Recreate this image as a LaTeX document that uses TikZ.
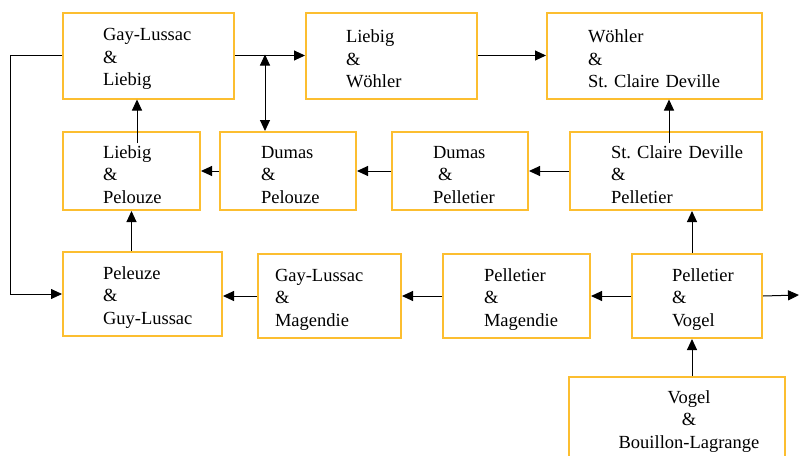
\documentclass[tikz,border=0pt]{standalone}
\usepackage{fontspec}
\setmainfont{Liberation Serif}
\usetikzlibrary{arrows.meta}
\definecolor{boxgold}{RGB}{252,190,48}

\tikzset{
  pair/.style={draw=boxgold, line width=2pt, anchor=north west, inner sep=0pt,
    align=left, font=\fontsize{18.5}{22.5}\selectfont,
    execute at begin node={\rule{0pt}{19.5pt}}},
  link/.style={line width=1pt, ->}
}

\begin{document}
\begin{tikzpicture}[x=1pt, y=-1pt, >={Triangle[length=11pt, width=10pt]}]
    \useasboundingbox (0,0) rectangle (800,455);

    % Top row
    \node[pair, text width=171pt, minimum height=86pt] (gl) at (62,11.5) {\leftskip=40pt Gay-Lussac\\ \&\\ Liebig\par};
    \node[pair, text width=171pt, minimum height=86pt] (lw) at (305,11.5) {\leftskip=40pt Liebig\\ \&\\ Wöhler\par};
    \node[pair, text width=215pt, minimum height=86pt] (wd) at (546,11.5) {\leftskip=41pt Wöhler\\ \&\\ St.~Claire Deville\par};

    % Middle row
    \node[pair, text width=137pt, minimum height=78pt] (lpz) at (62,131) {\leftskip=40pt Liebig\\ \&\\ Pelouze\par};
    \node[pair, text width=136pt, minimum height=78pt] (dp) at (219,131) {\leftskip=41pt Dumas\\ \&\\ Pelouze\par};
    \node[pair, text width=136pt, minimum height=78pt] (dpe) at (391,131) {\leftskip=41pt Dumas\\ \hspace*{5pt}\&\\ Pelletier\par};
    \node[pair, text width=192pt, minimum height=78pt] (sp) at (569,131) {\leftskip=41pt St.~Claire Deville\\ \&\\ Pelletier\par};

    % Bottom row
    \node[pair, text width=159pt, minimum height=84pt] (pg) at (62,251) {\leftskip=40pt Peleuze\\ \&\\ Guy-Lussac\par};
    \node[pair, text width=143pt, minimum height=84pt] (gm) at (257,253) {\leftskip=17pt Gay-Lussac\\ \&\\ Magendie\par};
    \node[pair, text width=147pt, minimum height=84pt] (pm) at (442,253) {\leftskip=41pt Pelletier\\ \&\\ Magendie\par};
    \node[pair, text width=130pt, minimum height=84pt] (pv) at (631,253) {\leftskip=40pt Pelletier\\ \&\\ Vogel\par};
    \node[pair, text width=216pt, minimum height=82pt] (vb) at (568,376) {\leftskip=24pt plus 1fil Vogel\\ \&\\ Bouillon-Lagrange\par};

    % Connectors
    \coordinate (junc) at (265,54.5);
    \coordinate (exit) at (799,295);
    \draw[link] (gl.east) -- (lw.west);
    \draw[link] (lw.east) -- (wd.west);
    \draw[line width=1pt, <->] (junc) -- (junc |- dp.north);
    \draw[link] ([xshift=3pt, yshift=-12pt]sp.north) -- ([xshift=3pt]sp.north |- wd.south);
    \draw[link] ([xshift=5.5pt, yshift=-12pt]lpz.north) -- ([xshift=5.5pt]lpz.north |- gl.south);
    \draw[link] (dp.west) -- (lpz.east);
    \draw[link] (dpe.west) -- (dp.east);
    \draw[link] (sp.west) -- (dpe.east);
    \draw[link] (lpz.south |- pg.north) -- (lpz.south);
    \draw[link, line width=0.8pt] (gl.west) -- ++(-52,0) |- (pg.west);
    \draw[link] (gm.west) -- (gm.west -| pg.east);
    \draw[link] (pm.west) -- (gm.east);
    \draw[link] (pv.west) -- (pm.east);
    \draw[link] (pv.east) -- (exit);
    \draw[link] ([xshift=-5pt]pv.north) -- ([xshift=-5pt]pv.north |- sp.south);
    \draw[link] ([xshift=-5pt]pv.south |- vb.north) -- ([xshift=-5pt]pv.south);
\end{tikzpicture}
\end{document}
